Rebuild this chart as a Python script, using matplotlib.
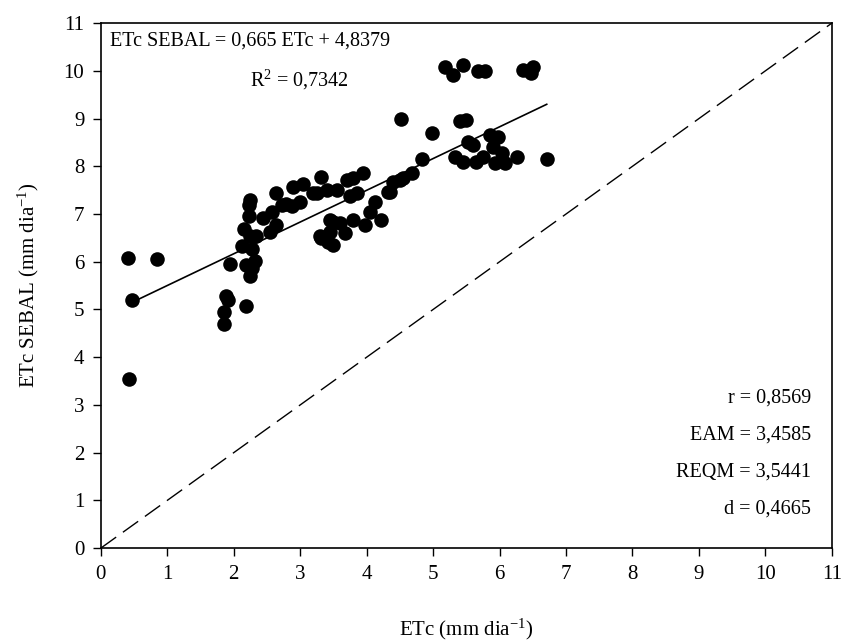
import numpy as np
import matplotlib.pyplot as plt

plt.rcParams['font.family'] = ['Liberation Serif', 'DejaVu Serif']
plt.rcParams['mathtext.fontset'] = 'custom'
plt.rcParams['mathtext.rm'] = 'Liberation Serif'
plt.rcParams['mathtext.it'] = 'Liberation Serif:italic'

etc = [0.41, 0.85, 0.47, 0.43, 1.85, 1.86, 1.88, 1.91, 1.94, 2.18,
       2.24, 2.23, 2.23, 2.15, 2.34, 2.12, 2.27, 2.32, 2.19, 2.27,
       2.25, 2.24, 2.44, 2.57, 2.54, 2.64, 2.64, 2.73, 2.79, 2.87,
       2.89, 3.04, 2.99, 3.32, 3.19, 3.25, 3.40, 3.55, 3.70, 3.80,
       3.95, 3.85, 3.75, 3.30, 3.32, 3.42, 3.45, 3.50, 3.49, 3.45,
       3.60, 3.67, 3.80, 3.97, 4.05, 4.12, 4.22, 4.35, 4.40, 4.55,
       4.68, 4.84, 4.99, 4.51, 5.18, 5.30, 5.45, 5.68, 5.78, 6.36,
       6.51, 6.48, 5.40, 5.50, 5.53, 5.60, 5.33, 5.45, 5.65, 5.75,
       5.85, 5.98, 5.90, 5.93, 6.08, 6.03, 6.26, 6.71, 4.50, 4.32]
etc_sebal = [6.07, 6.05, 5.20, 3.54, 4.69, 4.95, 5.28, 5.20, 5.95, 5.07,
             7.30, 7.19, 6.96, 6.68, 6.54, 6.33, 6.26, 6.02, 5.93, 5.86,
             5.70, 6.53, 6.91, 7.05, 6.63, 6.77, 7.44, 7.19, 7.22, 7.16,
             7.57, 7.63, 7.26, 7.78, 7.44, 7.44, 7.51, 7.51, 7.72, 7.75,
             7.86, 7.44, 7.37, 6.53, 6.49, 6.42, 6.63, 6.35, 6.84, 6.88,
             6.81, 6.60, 6.88, 6.77, 7.05, 7.26, 6.88, 7.47, 7.68, 7.75,
             7.86, 8.15, 8.69, 9.00, 10.09, 9.92, 10.13, 9.99, 9.99, 10.02,
             10.09, 9.95, 8.94, 8.97, 8.52, 8.45, 8.20, 8.10, 8.10, 8.20,
             8.66, 8.62, 8.41, 8.07, 8.07, 8.28, 8.20, 8.15, 7.72, 7.47]

slope = 0.665
intercept = 4.8379
stats = ["r = 0,8569", "EAM = 3,4585", "REQM = 3,5441", "d = 0,4665"]

fig = plt.figure(figsize=(8.41, 6.44), dpi=100)
ax = fig.add_axes([0.120, 0.149, 0.869, 0.815])

ax.scatter(etc, etc_sebal, s=110, color='black', zorder=3, linewidths=0)

xfit = np.array([min(etc), max(etc)])
ax.plot(xfit, slope * xfit + intercept, color='black', lw=1.2)
ax.plot([0, 11], [0, 11], color='black', lw=1, dashes=(13.5, 6))

ax.set_xlim(0, 11)
ax.set_ylim(0, 11)
ax.set_xticks(range(12))
ax.set_yticks(range(12))
ax.tick_params(direction='out', length=6, width=1, labelsize=15, pad=6)
for s in ax.spines.values():
    s.set_linewidth(1.2)

ax.set_xlabel("ETc (mm dia$^{-1}$)", fontsize=15, labelpad=24)
ax.set_ylabel("ETc SEBAL (mm dia$^{-1}$)", fontsize=15, labelpad=16)

ax.text(0.013, 0.985, "ETc SEBAL = 0,665 ETc + 4,8379", transform=ax.transAxes,
        fontsize=14.5, ha='left', va='top')
ax.text(0.272, 0.915, "R$^2$ = 0,7342", transform=ax.transAxes,
        fontsize=14.5, ha='center', va='top')

for i, t in enumerate(stats):
    ax.text(0.972, 0.285 - i * 0.07, t, transform=ax.transAxes,
            fontsize=14.5, ha='right', va='center')

fig.savefig("out.png", dpi=100)
